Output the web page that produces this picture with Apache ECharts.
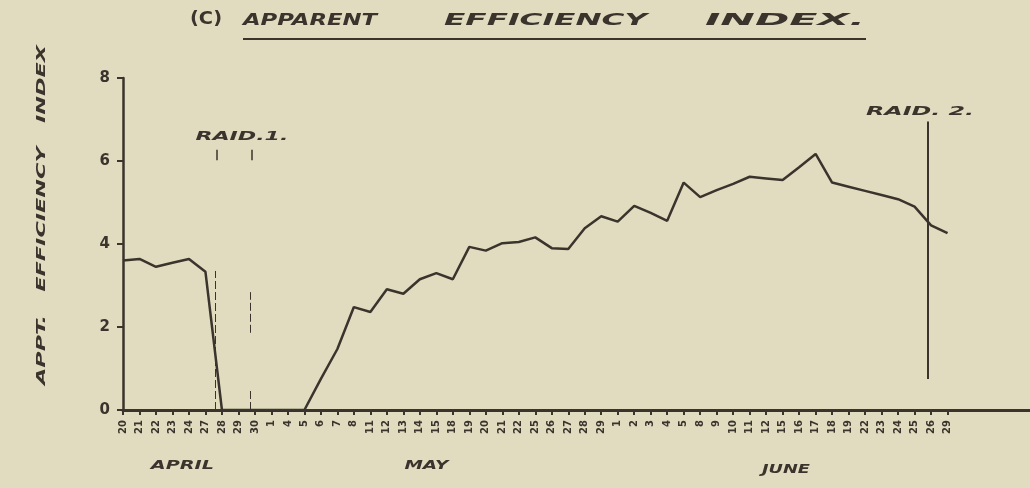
<!DOCTYPE html>
<html>
<head>
<meta charset="utf-8">
<script src="https://cdn.jsdelivr.net/npm/echarts@6/dist/echarts.min.js"></script>
<style>
  html, body { margin: 0; padding: 0; background: #e1dbc0; }
  #main { width: 1030px; height: 488px; }
</style>
</head>
<body>
<div id="main"></div>
<script>
// working days, 20 April - 29 June
var days = ['20', '21', '22', '23', '24', '27', '28', '29', '30',
  '1', '4', '5', '6', '7', '8', '11', '12', '13', '14', '15', '18', '19', '20', '21', '22', '25', '26', '27', '28', '29',
  '1', '2', '3', '4', '5', '8', '9', '10', '11', '12', '15', '16', '17', '18', '19', '22', '23', '24', '25', '26', '29'];
var efficiency = [3.6, 3.64, 3.45, 3.55, 3.64, 3.33, 0, 0, 0,
  0, 0, 0, 0.75, 1.47, 2.48, 2.36, 2.91, 2.8, 3.15, 3.3, 3.15, 3.93, 3.84, 4.02, 4.05, 4.16, 3.9, 3.88, 4.38, 4.67,
  4.54, 4.92, 4.75, 4.56, 5.48, 5.13, 5.3, 5.45, 5.62, 5.58, 5.54, 5.85, 6.17, 5.48, 5.38, 5.28, 5.18, 5.08, 4.9, 4.45, 4.26];
var yTicks = [0, 2, 4, 6, 8];

// month names and where they sit (in day positions)
var monthNames = ['APRIL', 'MAY', 'JUNE'];
var monthAt = [3.6, 18.4, 40.2];

// raid annotations: [x, yFrom, yTo]
var raid1Lines = [[5.6, 0, 3.35], [7.7, 0, 0.48], [7.7, 1.86, 2.84]];
var raid1Ticks = [[5.68, 6.02, 6.27], [7.78, 6.02, 6.27]];
var raid2Line = [48.8, 0.75, 6.95];
var raidLabels = [['RAID.1.', 7.21, 6.58, 93], ['RAID. 2.', 48.33, 7.18, 108]];

var ink = '#3a342d';
var pad = 5;
var cats = days.concat(new Array(pad).fill(''));

var myChart = echarts.init(document.getElementById('main'));

function seg(list, w, type) {
  return list.map(function (s) {
    return [{ coord: [s[0], s[1]], lineStyle: { width: w, type: type } },
            { coord: [s[0], s[2]] }];
  });
}

var option = {
  backgroundColor: '#e1dbc0',
  animation: false,
  grid: { left: 123, right: -10, top: 78, bottom: 78 },
  xAxis: [
    {
      type: 'category',
      data: cats,
      boundaryGap: false,
      axisLine: { lineStyle: { color: ink, width: 3 } },
      axisTick: {
        length: 5,
        lineStyle: { color: ink, width: 2 },
        interval: function (i, v) { return v !== ''; }
      },
      axisLabel: {
        interval: 0, rotate: 90, margin: 10,
        color: ink, fontSize: 10, fontWeight: 'bold', fontFamily: 'DejaVu Sans'
      },
      splitLine: { show: false }
    },
    { type: 'value', min: 0, max: cats.length - 1, show: false }
  ],
  yAxis: {
    type: 'value',
    min: yTicks[0],
    max: yTicks[yTicks.length - 1],
    interval: yTicks[1] - yTicks[0],
    axisLine: { show: true, lineStyle: { color: ink, width: 2.5 } },
    axisTick: { show: true, length: 6, lineStyle: { color: ink, width: 2 } },
    axisLabel: { margin: 13, color: ink, fontSize: 15, fontWeight: 'bold', fontFamily: 'DejaVu Sans' },
    splitLine: { show: false }
  },
  series: [
    {
      type: 'line',
      data: efficiency,
      symbol: 'none',
      lineStyle: { color: ink, width: 2.5 }
    },
    {
      type: 'line',
      xAxisIndex: 1,
      data: [],
      markLine: {
        silent: true,
        symbol: 'none',
        label: { show: false },
        lineStyle: { color: ink },
        data: seg(raid1Lines, 1, [8, 3])
          .concat(seg(raid1Ticks, 1.5, 'solid'))
          .concat(seg([raid2Line], 2, 'solid'))
      }
    }
  ]
};
myChart.setOption(option);

// hand lettering is wide, so stretch the text to the width it takes on the sheet
var ctx = document.createElement('canvas').getContext('2d');
function txt(text, font, x, y, width, align, rot) {
  ctx.font = font;
  return {
    type: 'text', x: x, y: y, scaleX: width / ctx.measureText(text).width,
    rotation: rot || 0, silent: true,
    style: { text: text, font: font, fill: ink, textAlign: align || 'left', textVerticalAlign: 'middle' }
  };
}

var lf = 'italic bold 16px "DejaVu Sans"';
var sf = 'italic bold 12px "DejaVu Sans"';
var graphic = [
  txt('(C)', 'bold 17px "DejaVu Sans"', 190, 20, 32),
  txt('APPARENT', lf, 243, 21, 134),
  txt('EFFICIENCY', lf, 444, 21, 203),
  txt('INDEX.', lf, 705, 21, 160),
  { type: 'line', silent: true, shape: { x1: 243, y1: 39, x2: 866, y2: 39 }, style: { stroke: ink, lineWidth: 2 } },
  txt('APPT.   EFFICIENCY   INDEX', 'italic bold 13px "DejaVu Sans"', 42, 215, 340, 'center', Math.PI / 2)
];

raidLabels.forEach(function (r) {
  var p = myChart.convertToPixel({ seriesIndex: 1 }, [r[1], r[2]]);
  graphic.push(txt(r[0], sf, p[0] - r[3] / 2, p[1], r[3]));
});

var monthW = [63, 44, 48];
var monthY = [466, 466, 470];
monthNames.forEach(function (m, i) {
  var p = myChart.convertToPixel({ seriesIndex: 1 }, [monthAt[i], 0]);
  graphic.push(txt(m, sf, p[0] - monthW[i] / 2, monthY[i], monthW[i]));
});

myChart.setOption({ graphic: graphic });
</script>
</body>
</html>
